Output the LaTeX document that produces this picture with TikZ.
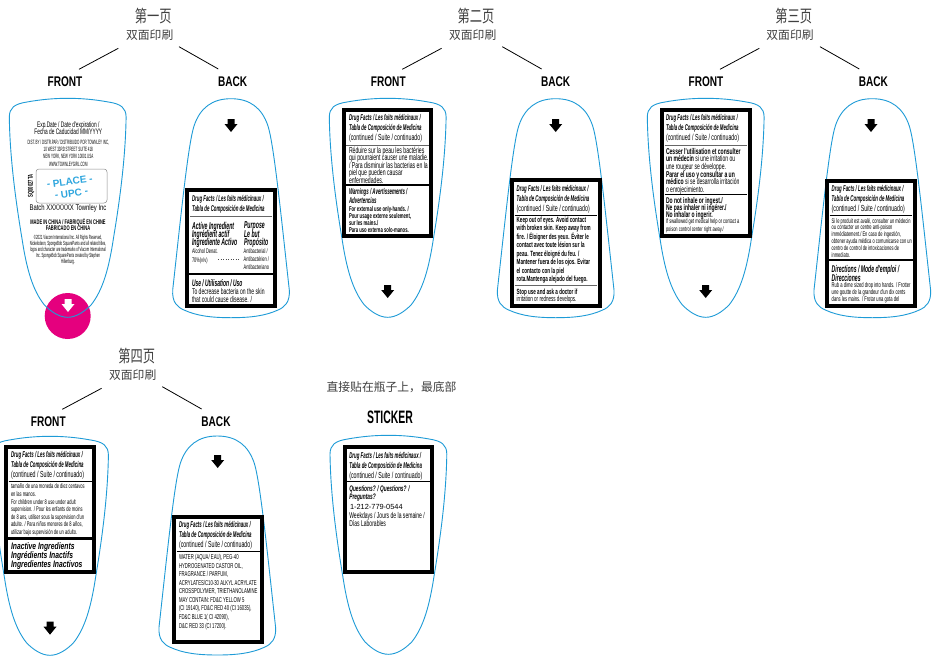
\documentclass[tikz,border=0pt]{standalone}
\usepackage{fontspec}
\setmainfont{Liberation Sans}
\newfontfamily\nf[FakeStretch=.6]{Liberation Sans}
\newfontfamily\nfh[FakeStretch=.52]{Liberation Sans}
\newfontfamily\nfw[FakeStretch=.72]{Liberation Sans}
\newfontfamily\nfs[FakeStretch=.58]{Liberation Sans}
\newfontfamily\nfx[FakeStretch=.48]{Liberation Sans}
\newfontfamily\nfp{Liberation Sans}
\newfontfamily\cjk{Noto Sans CJK SC}
\newfontfamily\cjkt[FakeStretch=.72]{Noto Sans CJK SC}
\definecolor{bottleblue}{HTML}{1E9BD7}
\definecolor{upcblue}{HTML}{2FA6DE}
\definecolor{pinkdot}{HTML}{E5007E}
\tikzset{
  tbk/.style={anchor=north west,inner sep=0pt,outer sep=0pt,align=left,text=black},
  cblock/.style={anchor=center,inner sep=0pt,outer sep=0pt,align=center,text=black},
  outline/.style={draw=bottleblue,line width=.9pt},
  panel/.style={draw=black,fill=white,line width=4pt},
  grayrule/.style={draw=black!60,line width=.7pt},
  blackrule/.style={draw=black,line width=.7pt},
  divider/.style={draw=black,line width=2.6pt},
  conn/.style={draw=black,line width=.8pt},
  sidelabel/.style={cblock,font={\nfw\bfseries\fontsize{14}{14}\selectfont}},
  pagetitle/.style={cblock,text=black!75,font={\cjkt\fontsize{17}{17}\selectfont}},
  duplex/.style={cblock,text=black!75,font={\cjk\fontsize{11.8}{12}\selectfont}}
}
\newcommand\bi[1]{{\bfseries\itshape #1}}
\newcommand\bih[1]{{\nfh\bfseries\itshape #1}}
% name, x, y of first line centre, size, leading, text
\newcommand\tb[6]{\node[tbk,yshift={(.7*#5-.33*#4)*1pt},font={\nf\fontsize{#4}{#5}\selectfont\lineskiplimit=-100pt}] (#1) at (#2,#3) {\strut #6};}
\newcommand\dfhead[3]{\tb{#1}{#2}{#3}{8.4}{10}{\bih{Drug Facts / Les faits médicinaux /}\\\bih{Tabla de Composición de Medicina}\\{\fontsize{8.8}{10}\selectfont (continued / Suite / continuado)}}}
\newcommand\dbox[4]{\draw[panel] ({#1+2},{#2+2}) rectangle ({#3-2},{#4-2});}
\newcommand\frontshape[2]{\begin{scope}[shift={(#1,#2)}]
\draw[outline] (9.3,117) .. controls (9.5,108) and (14,104) .. (27,102)
 .. controls (42,99.3) and (55,98.3) .. (67.7,98.3)
 .. controls (80.4,98.3) and (93.4,99.3) .. (108.4,102)
 .. controls (121.4,104) and (125.9,108) .. (126.1,117)
 .. controls (125.5,160) and (119,205) .. (113.5,238)
 .. controls (109,268) and (103,290) .. (91,305)
 .. controls (84,312) and (76,317.3) .. (67.7,317.3)
 .. controls (59.4,317.3) and (51.4,312) .. (44.4,305)
 .. controls (32.4,290) and (26.4,268) .. (21.9,238)
 .. controls (16.4,205) and (9.9,160) .. (9.3,117) -- cycle;
\end{scope}}
\newcommand\backshape[2]{\begin{scope}[shift={(#1,#2)}]
\draw[outline] (231,98.7) .. controls (250,98.7) and (262,108) .. (268,126)
 .. controls (274,145) and (281,215) .. (289.3,290)
 .. controls (290,302) and (285,307) .. (278,310)
 .. controls (265,316) and (250,317.7) .. (231,317.7)
 .. controls (212,317.7) and (197,316) .. (184,310)
 .. controls (177,307) and (172,302) .. (172.7,290)
 .. controls (181,215) and (188,145) .. (194,126)
 .. controls (200,108) and (212,98.7) .. (231,98.7) -- cycle;
\end{scope}}
\newcommand\downarr[3]{\fill[#3] ({#1-3.5},#2) -- ({#1+3.5},#2) -- ({#1+3.5},{#2+5}) -- ({#1+6.5},{#2+5}) -- (#1,{#2+13}) -- ({#1-6.5},{#2+5}) -- ({#1-3.5},{#2+5}) -- cycle;}
% prefix, title text, title x, duplex x, y offset, line dx
\newcommand\pagehead[6]{
 \node[pagetitle] (#1title) at (#3,{15.7+#5}) {#2};
 \node[duplex] (#1duplex) at (#4,{35+#5}) {双面印刷};
 \coordinate (#1la) at ({118.3+#6},{48.3+#5});
 \coordinate (#1lb) at ({79+#6},{69.3+#5});
 \coordinate (#1ra) at ({179+#6},{46.7+#5});
 \coordinate (#1rb) at ({218.3+#6},{69+#5});
 \draw[conn] (#1la) -- (#1lb);
 \draw[conn] (#1ra) -- (#1rb);
}
\begin{document}
\begin{tikzpicture}[x=1pt,y=-1pt]
\useasboundingbox (0,0) rectangle (932,656);
\fill[white] (0,0) rectangle (932,656);

%--- page headers
\pagehead{a}{第一页}{153.3}{149.7}{0}{0}
\pagehead{b}{第二页}{476}{472.7}{0}{323.3}
\pagehead{c}{第三页}{793.7}{790}{0}{641}
\pagehead{d}{第四页}{136.7}{132.7}{340}{-16.7}

\node[sidelabel] (afront) at (65,81.7) {FRONT};
\node[sidelabel] (aback) at (232.7,81.7) {BACK};
\node[sidelabel] (bfront) at (388.3,81.7) {FRONT};
\node[sidelabel] (bback) at (555.7,81.7) {BACK};
\node[sidelabel] (cfront) at (706,81.7) {FRONT};
\node[sidelabel] (cback) at (873.3,81.7) {BACK};
\node[sidelabel] (dfront) at (48.3,421.7) {FRONT};
\node[sidelabel] (dback) at (216,421.7) {BACK};
\node[cblock,font={\nfs\bfseries\fontsize{18}{18}\selectfont}] (sticker) at (390,417.3) {STICKER};
\node[cblock,text=black!75,font={\cjk\fontsize{11.8}{12}\selectfont}] (stickernote) at (391.5,387) {直接贴在瓶子上，最底部};

%--- page 1 front
\fill[pinkdot] (67.7,316) circle (23);
\frontshape{0}{0}
\downarr{68}{299}{white}
\node[cblock,font={\nf\fontsize{8}{7.2}\selectfont\lineskiplimit=-100pt}] (aexp) at (68.3,128.5) {Exp.Date / Date d'expiration /\\Fecha de Caducidad MM/YYYY};
\node[cblock,font={\nfx\fontsize{6.2}{7.4}\selectfont\lineskiplimit=-100pt}] (adist) at (68.3,153) {DIST. BY / DISTR.PAR / DISTRIBUIDO POR TOWNLEY INC,\\10 WEST 33RD STREET SUITE 418\\NEW YORK, NEW YORK 10001 USA\\WWW.TOWNLEYGIRL.COM};
\draw[draw=black!45,line width=.5pt,rounded corners=3pt] (36,169) rectangle (107,203);
\node[cblock,rotate=8,text=upcblue,font={\bfseries\fontsize{10}{12}\selectfont}] (aupc) at (70.5,187.3) {- PLACE -\\- UPC -};
\node[cblock,rotate=90,font={\nf\bfseries\fontsize{7}{7}\selectfont}] (asq) at (31,186) {SQ00027TA};
\node[cblock,font={\nfw\fontsize{8.2}{8}\selectfont}] (abatch) at (68,208.5) {Batch XXXXXXX Townley Inc};
\node[cblock,font={\nf\bfseries\fontsize{6.7}{6.2}\selectfont\lineskiplimit=-100pt}] (amade) at (68,224.5) {MADE IN CHINA / FABRIQUÉ EN CHINE\\FABRICADO EN CHINA};
\node[cblock,font={\nfx\fontsize{6}{6}\selectfont\lineskiplimit=-100pt}] (acopy) at (68,250) {©2021 Viacom International Inc. All Rights Reserved,\\Nickelodeon, SpongeBob SquarePants and all related titles,\\logos and character are trademarks of Viacom International\\Inc. SpongeBob SquarePants created by Stephen\\Hillenburg.};

%--- page 1 back
\backshape{0}{0}
\downarr{231}{119}{black}
\dbox{185}{188}{276.7}{308}
\draw[grayrule] (190,216) -- (271.5,216);
\draw[divider] (187,274) -- (274.7,274);
\tb{abhead}{192}{199}{8.4}{10}{\bih{Drug Facts / Les faits médicinaux /}\\\bih{Tabla de Composición de Medicina}}
\tb{abact}{192}{224.5}{10}{8.3}{\bih{Active Ingredient}\\\bih{Ingrédient actif}\\\bih{Ingrediente Activo}}
\tb{abpur}{244}{224.5}{10}{8.3}{\bih{Purpose}\\\bih{Le but}\\\bih{Propósito}}
\tb{abalc}{192}{251}{6.6}{9.3}{Alcohol Denat.\\70\%(v/v)}
\draw[black!70,line width=.5pt,dotted] (218,259) -- (240,259);
\tb{abanti}{243.7}{251.5}{6.6}{7.8}{Antibacterial /\\Antibactérien /\\Antibacteriano}
\tb{abuse}{192}{282.7}{9.5}{9}{\bih{Use / Utilisation / Uso}}
\tb{abdec}{192}{291.2}{8.4}{7.8}{To decrease bacteria on the skin\\that could cause disease. /}

%--- page 2 front
\frontshape{320}{0}
\downarr{387.7}{285}{black}
\dbox{341.7}{108}{433}{238}
\draw[grayrule] (346,145) -- (428.5,145);
\draw[divider] (343.7,185) -- (431,185);
\dfhead{bfhead}{349}{118}
\tb{bfbody}{349}{149.2}{8.6}{7.5}{Réduire sur la peau les bactéries\\qui pourraient causer une maladie.\\/ Para disminuir las bacterias en la\\piel que pueden causar\\enfermedades.}
\tb{bfwarn}{349}{191.7}{8.4}{9.3}{\bih{Warnings / Avertissements /}\\\bih{Advertencias}}
\tb{bfext}{349}{209.3}{7}{6.7}{\bfseries For external use only-hands. /\\\bfseries Pour usage externe seulement,\\\bfseries sur les mains./\\\bfseries Para uso externa solo-manos.}

%--- page 2 back
\backshape{324.7}{0}
\downarr{555.7}{119}{black}
\dbox{510}{178.3}{601.7}{308.3}
\draw[blackrule] (514.5,215.7) -- (597,215.7);
\draw[grayrule] (514.5,285.7) -- (597,285.7);
\dfhead{bbhead}{516.7}{189}
\tb{bbbody}{516.7}{220}{7.6}{8.45}{\bfseries Keep out of eyes. Avoid contact\\\bfseries with broken skin. Keep away from\\\bfseries fire. / Éloigner des yeux. Éviter le\\\bfseries contact avec toute lésion sur la\\\bfseries peau. Tenez éloigné du feu. /\\\bfseries Mantener fuera de los ojos. Evitar\\\bfseries el contacto con la piel\\\bfseries rota.Mantenga alejado del fuego.}
\tb{bbstop}{516.7}{291.7}{7.6}{7.5}{\bfseries Stop use and ask a doctor if\\irritation or redness develops.}

%--- page 3 front
\frontshape{638}{0}
\downarr{705.7}{285}{black}
\dbox{660}{108}{751.7}{238}
\draw[grayrule] (664.5,145) -- (747,145);
\draw[blackrule] (664.5,194.3) -- (747,194.3);
\dfhead{cfhead}{666}{118}
\tb{cfbody}{666}{150.7}{8.4}{7.65}{\bfseries Cesser l'utilisation et consulter\\\textbf{un médecin} \mdseries si une irritation ou\\une rougeur se développe.\\\textbf{Parar el uso y consultar a un}\\\textbf{médico} si se desarrolla irritación\\o enrojecimiento.}
\tb{cfdo}{666}{199.3}{8.3}{7}{\bfseries Do not inhale or ingest./\\\bfseries Ne pas inhaler ni ingérer./\\\bfseries No inhalar o ingerir.}
\tb{cfif}{666}{221.7}{6.6}{7.6}{If swallowed get medical help or contact a\\poison control center right away./}

%--- page 3 back
\backshape{641.3}{0}
\downarr{871}{119}{black}
\dbox{825}{179.3}{916.7}{308.3}
\draw[blackrule] (829.5,215.7) -- (912,215.7);
\draw[divider] (827,260) -- (914.7,260);
\dfhead{cbhead}{831.7}{189}
\tb{cbbody}{831.7}{220.7}{6.7}{6.9}{Si le produit est avalé, consulter un médecin\\ou contacter un centre anti-poison\\immédiatement./ En caso de ingestión,\\obtener ayuda médica o comunicarse con un\\centro de control de intoxicaciones de\\inmediato.}
\tb{cbdir}{831.7}{268.3}{9.8}{8.4}{\bih{Directions / Mode d'emploi  /}\\\bih{Direcciones}}
\tb{cbrub}{831.7}{285}{6.9}{7.2}{Rub a dime sized drop into hands. / Frotter\\une goutte de la grandeur d'un dix cents\\dans les mains. / Frotar una gota del}

%--- page 4 front
\frontshape{-17.7}{338}
\downarr{50}{621.7}{black}
\dbox{4.3}{445}{96}{574.3}
\draw[blackrule] (8.5,481.7) -- (91.5,481.7);
\draw[divider] (6.3,538.3) -- (94,538.3);
\dfhead{dfhead}{11}{455}
\tb{dfbody}{11}{486.7}{6.7}{7.6}{tamaño de una moneda de diez centavos\\en las manos.\\For children under 8 use under adult\\supervision. / Pour les enfants de moins\\de 8 ans, utiliser sous la supervision d'un\\adulte. / Para niños menores de 8 años,\\utilizar bajo supervisión de un adulto.}
\tb{dfina}{11}{546}{9.4}{8.65}{{\nfw\bfseries\itshape Inactive Ingredients}\\{\nfw\bfseries\itshape Ingrédients Inactifs}\\{\nfw\bfseries\itshape Ingredientes Inactivos}}

%--- page 4 back
\backshape{-13.7}{337.3}
\downarr{217.7}{455}{black}
\dbox{172.3}{515}{264}{644}
\draw[blackrule] (176.5,551) -- (259.5,551);
\dfhead{dbhead}{179}{525}
\tb{dbbody}{179}{557.3}{7.1}{8.55}{WATER (AQUA/ EAU), PEG-40\\HYDROGENATED CASTOR OIL,\\FRAGRANCE / PARFUM,\\ACRYLATES/C10-30 ALKYL ACRYLATE\\CROSSPOLYMER, TRIETHANOLAMINE\\MAY CONTAIN: FD\&C YELLOW 5\\(CI 19140), FD\&C RED 40 (CI 16035),\\FD\&C BLUE 1( CI 42090),\\D\&C RED 33 (CI 17200).}

%--- sticker
\frontshape{320.7}{337}
\dbox{342.7}{445}{434}{574.3}
\draw[blackrule] (347,481.3) -- (429.5,481.3);
\dfhead{shead}{349.3}{455.7}
\tb{sques}{349.3}{488.3}{8}{7.7}{\bi{Questions? / Questions? /}\\\bi{Preguntas?}}
\tb{sphone}{350}{506.8}{7.4}{7.4}{\nfp 1-212-779-0544}
\tb{swk}{349.3}{515.5}{8.4}{7.7}{Weekdays / Jours de la semaine /\\Días Laborables}
\end{tikzpicture}
\end{document}
